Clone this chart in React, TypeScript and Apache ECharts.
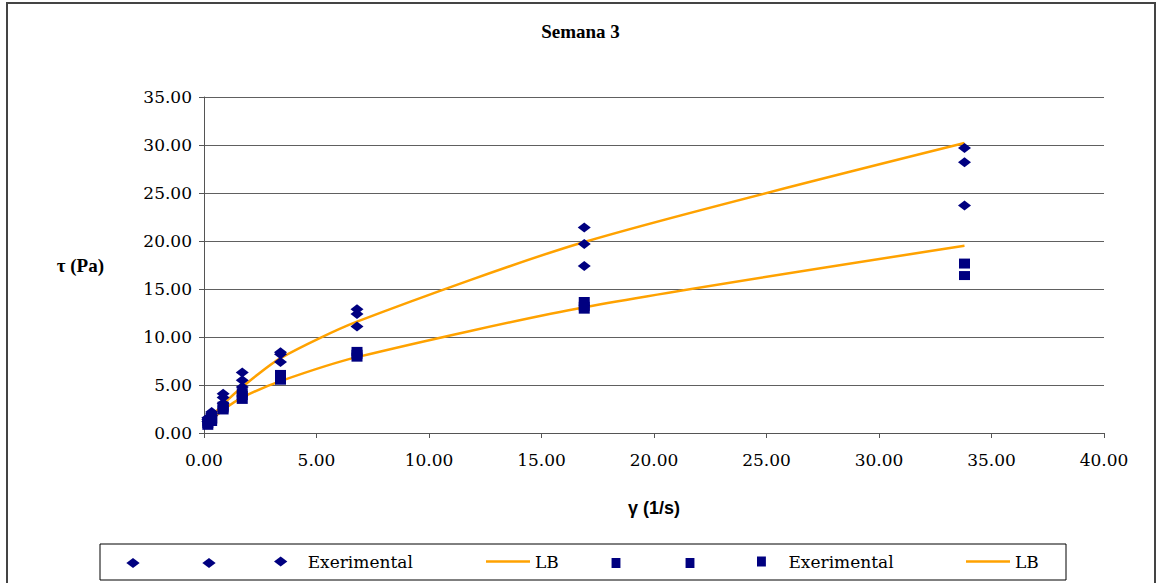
import React, { useEffect, useRef } from 'react';
import * as echarts from 'echarts';

// Shear rate (1/s)
const shearRates = [0.17, 0.34, 0.85, 1.7, 3.4, 6.8, 16.9, 33.8];
// First sample: three replicate readings (diamonds) and its LB model curve
const diamondRep1 = [1.6, 2.2, 4.1, 6.3, 8.4, 12.9, 21.4, 29.7];
const diamondRep2 = [1.4, 2.0, 3.7, 5.5, 8.2, 12.4, 19.7, 28.2];
const diamondRep3 = [1.2, 1.8, 3.1, 4.8, 7.4, 11.1, 17.4, 23.7];
const lbUpper = [1.2, 1.7, 3.0, 4.8, 7.8, 11.6, 19.9, 30.2];
// Second sample: three replicate readings (squares) and its LB model curve
const squareRep1 = [1.2, 1.5, 2.8, 4.2, 6.1, 8.5, 13.7, 17.7];
const squareRep2 = [1.0, 1.4, 2.6, 3.9, 5.7, 8.2, 13.2, 17.6];
const squareRep3 = [0.8, 1.2, 2.4, 3.5, 5.5, 7.9, 12.9, 16.4];
const lbLower = [1.0, 1.4, 2.4, 3.7, 5.4, 7.9, 13.1, 19.5];

const titleText = 'Semana 3';
const xAxisTitle = 'γ (1/s)';
const yAxisTitle = 'τ (Pa)';

const seriesKeys = ['d1', 'd2', 'd3', 'lb1', 's1', 's2', 's3', 'lb2'];
const legendLabels = ['', '', 'Exerimental', 'LB', '', '', 'Exerimental', 'LB'];

const pairs = (xs: number[], ys: number[]) => xs.map((x, i) => [x, ys[i]]);

const NAVY = '#000080';
const ORANGE = '#FFA200';
const DIAMOND_ICON = 'path://M6,0L12,4.5L6,9L0,4.5Z';
const SQUARE_ICON = 'path://M0,0H8V9H0Z';
const LINE_ICON = 'path://M0,0H44V2.5H0Z';

export default function App() {
  const ref = useRef<HTMLDivElement>(null);

  useEffect(() => {
    if (!ref.current) return;
    const chart = echarts.init(ref.current, null, { renderer: 'svg' });

    const scatter = (key: string, ys: number[], symbol: string, size: number[]) => ({
      type: 'scatter',
      name: key,
      data: pairs(shearRates, ys),
      symbol,
      symbolSize: size,
      itemStyle: { color: NAVY, opacity: 1 },
      z: 4,
    });
    const line = (key: string, ys: number[]) => ({
      type: 'line',
      name: key,
      data: pairs(shearRates, ys),
      symbol: 'none',
      showSymbol: false,
      smooth: 0.25,
      lineStyle: { color: ORANGE, width: 2.5 },
      itemStyle: { color: ORANGE },
      z: 3,
    });

    const icons = [DIAMOND_ICON, DIAMOND_ICON, DIAMOND_ICON, LINE_ICON, SQUARE_ICON, SQUARE_ICON, SQUARE_ICON, LINE_ICON];
    // position of each legend entry inside the legend box
    const legendLefts = [111, 187, 274, 486, 594, 668, 757, 966];
    const legendTops = [558, 558, 553, 553, 558, 558, 553, 553];
    const legendFont = { fontFamily: 'DejaVu Serif', fontSize: 17, color: '#000' };

    const legends = seriesKeys.map((k, i) => ({
      left: legendLefts[i],
      top: legendTops[i],
      padding: 0,
      orient: 'horizontal',
      itemWidth: 44,
      itemHeight: 10,
      selectedMode: false,
      textStyle: legendFont,
      formatter: () => legendLabels[i],
      data: [{ name: k, icon: icons[i] }],
    }));

    chart.setOption({
      animation: false,
      backgroundColor: '#fff',
      title: {
        text: titleText,
        left: 'center',
        top: 17,
        textStyle: { fontFamily: 'Liberation Serif', fontWeight: 'bold', fontSize: 19, color: '#000' },
      },
      grid: { left: 204, right: 57, top: 97, bottom: 150 },
      xAxis: {
        type: 'value',
        min: 0,
        max: 40,
        interval: 5,
        name: xAxisTitle,
        nameLocation: 'middle',
        nameGap: 66,
        nameTextStyle: { fontFamily: 'Liberation Sans', fontWeight: 'bold', fontSize: 18, color: '#000' },
        axisLine: { lineStyle: { color: '#555', width: 1 } },
        axisTick: { show: true, inside: false, length: 5, lineStyle: { color: '#555' } },
        axisLabel: {
          formatter: (v: number) => v.toFixed(2),
          fontFamily: 'DejaVu Serif',
          fontSize: 17,
          color: '#000',
          margin: 18,
        },
        splitLine: { show: false },
      },
      yAxis: {
        type: 'value',
        min: 0,
        max: 35,
        interval: 5,
        name: yAxisTitle,
        nameLocation: 'middle',
        nameRotate: 0,
        nameGap: 100,
        nameTextStyle: { fontFamily: 'Liberation Serif', fontWeight: 'bold', fontSize: 19, color: '#000' },
        axisLine: { show: true, lineStyle: { color: '#555', width: 1 } },
        axisTick: { show: true, inside: false, length: 5, lineStyle: { color: '#555' } },
        axisLabel: {
          formatter: (v: number) => v.toFixed(2),
          fontFamily: 'DejaVu Serif',
          fontSize: 17,
          color: '#000',
          margin: 12,
        },
        splitLine: { show: true, lineStyle: { color: '#606060', width: 1 } },
      },
      legend: legends,
      graphic: [
        {
          type: 'rect',
          shape: { x: 7, y: 3, width: 1148, height: 600 },
          style: { fill: 'none', stroke: '#444', lineWidth: 2 },
          silent: true,
          z: 100,
        },
        {
          type: 'rect',
          shape: { x: 100, y: 544, width: 966, height: 36 },
          style: { fill: 'none', stroke: '#000', lineWidth: 1 },
          silent: true,
          z: 100,
        },
      ],
      series: [
        scatter('d1', diamondRep1, 'diamond', [13, 10]),
        scatter('d2', diamondRep2, 'diamond', [13, 10]),
        scatter('d3', diamondRep3, 'diamond', [13, 10]),
        line('lb1', lbUpper),
        scatter('s1', squareRep1, 'rect', [11, 9]),
        scatter('s2', squareRep2, 'rect', [11, 9]),
        scatter('s3', squareRep3, 'rect', [11, 9]),
        line('lb2', lbLower),
      ],
    });

    return () => chart.dispose();
  }, []);

  return (
    <div
      ref={ref}
      style={{ position: 'fixed', left: 0, top: 0, width: 1161, height: 583, background: '#fff' }}
    />
  );
}
